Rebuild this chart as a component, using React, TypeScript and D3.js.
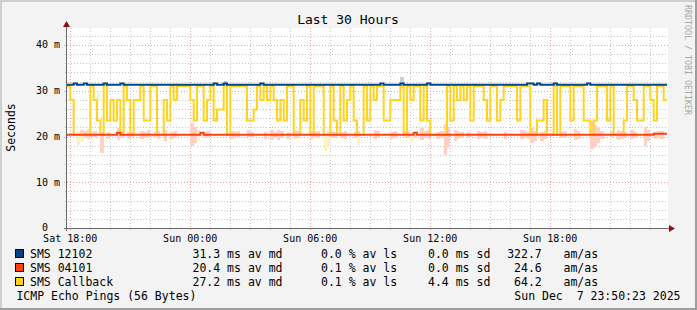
import React from 'react';
import * as d3 from 'd3';

const W = 697;
const H = 310;

const startTime = new Date(2025, 11, 6, 17, 50, 23);
const endTime = new Date(2025, 11, 7, 23, 50, 23);
const slotMinutes = 10;

const titleText = 'Last 30 Hours';
const yAxisTitle = 'Seconds';
const yTickValues = [0, 10, 20, 30, 40];
const yTickLabels = ['0  ', '10 m', '20 m', '30 m', '40 m'];
const yMinorStep = 2;
const yMax = 43.72;

// SMS 12102 median (ms), one value per 10 minutes
const blueValues = [
  31.3, 31.3, 31.6, 31.3, 31.3, 31.6, 31.3, 31.3, 31.3, 31.3,
  31.3, 31.6, 31.3, 31.3, 31.3, 31.3, 31.6, 31.3, 31.3, 31.3,
  31.3, 31.3, 31.3, 31.3, 31.3, 31.3, 31.3, 31.3, 31.3, 31.3,
  31.3, 31.3, 31.3, 31.3, 31.3, 31.3, 31.3, 31.3, 31.3, 31.3,
  31.3, 31.3, 31.3, 31.3, 31.6, 31.3, 31.3, 31.6, 31.3, 31.3,
  31.3, 31.3, 31.3, 31.3, 31.3, 31.3, 31.3, 31.3, 31.6, 31.3,
  31.3, 31.3, 31.3, 31.3, 31.3, 31.3, 31.3, 31.3, 31.3, 31.3,
  31.3, 31.3, 31.3, 31.3, 31.3, 31.3, 31.3, 31.3, 31.3, 31.3,
  31.3, 31.3, 31.3, 31.3, 31.3, 31.3, 31.3, 31.3, 31.3, 31.3,
  31.3, 31.3, 31.3, 31.3, 31.6, 31.3, 31.3, 31.3, 31.3, 31.3,
  31.6, 31.3, 31.3, 31.3, 31.3, 31.3, 31.3, 31.3, 31.6, 31.3,
  31.3, 31.3, 31.3, 31.3, 31.3, 31.3, 31.3, 31.3, 31.3, 31.3,
  31.3, 31.3, 31.3, 31.3, 31.3, 31.3, 31.3, 31.3, 31.3, 31.3,
  31.3, 31.3, 31.3, 31.3, 31.3, 31.3, 31.3, 31.3, 31.6, 31.6,
  31.3, 31.6, 31.3, 31.3, 31.3, 31.3, 31.6, 31.3, 31.3, 31.3,
  31.3, 31.3, 31.3, 31.3, 31.3, 31.3, 31.6, 31.3, 31.3, 31.3,
  31.3, 31.3, 31.3, 31.3, 31.3, 31.3, 31.3, 31.3, 31.3, 31.3,
  31.3, 31.3, 31.3, 31.3, 31.3, 31.3, 31.3, 31.3, 31.3, 31.3,
];

// SMS 04101 median (ms)
const redValues = [
  20.4, 20.4, 20.4, 20.4, 20.4, 20.4, 20.4, 20.4, 20.4, 20.4,
  20.4, 20.4, 20.4, 20.4, 20.4, 20.8, 20.4, 20.4, 20.4, 20.4,
  20.4, 20.4, 20.4, 20.4, 20.4, 20.4, 20.4, 20.4, 20.4, 20.4,
  20.4, 20.4, 20.4, 20.4, 20.4, 20.4, 20.4, 20.4, 20.4, 20.4,
  20.8, 20.4, 20.4, 20.4, 20.4, 20.4, 20.4, 20.4, 20.4, 20.4,
  20.4, 20.4, 20.4, 20.4, 20.4, 20.4, 20.4, 20.4, 20.4, 20.4,
  20.4, 20.4, 20.4, 20.4, 20.4, 20.4, 20.4, 20.4, 20.4, 20.4,
  20.4, 20.4, 20.4, 20.4, 20.4, 20.4, 20.4, 20.4, 20.4, 20.4,
  20.4, 20.4, 20.4, 20.4, 20.4, 20.4, 20.4, 20.4, 20.4, 20.4,
  20.4, 20.4, 20.4, 20.4, 20.4, 20.4, 20.4, 20.4, 20.4, 20.4,
  20.4, 20.4, 20.4, 20.4, 20.8, 20.4, 20.4, 20.4, 20.4, 20.4,
  20.4, 20.4, 20.4, 20.4, 20.4, 20.4, 20.4, 20.4, 20.4, 20.4,
  20.4, 20.4, 20.4, 20.4, 20.4, 20.4, 20.4, 20.4, 20.4, 20.4,
  20.4, 20.4, 20.4, 20.4, 20.4, 20.4, 20.4, 20.4, 20.4, 20.4,
  20.4, 20.4, 20.4, 20.4, 20.4, 20.4, 20.4, 20.4, 20.4, 20.4,
  20.4, 20.4, 20.4, 20.4, 20.4, 20.4, 20.4, 20.4, 20.4, 20.4,
  20.4, 20.4, 20.4, 20.4, 20.4, 20.4, 20.4, 20.4, 20.4, 20.4,
  20.4, 20.4, 20.4, 20.4, 20.4, 20.4, 20.6, 20.6, 20.6, 20.6,
];

// SMS Callback median (ms)
const yellowValues = [
  31.0, 28.0, 20.4, 20.4, 20.4, 20.4, 20.4, 31.0, 28.0, 23.5,
  20.4, 31.0, 23.5, 28.0, 23.5, 28.0, 20.4, 31.0, 28.0, 20.4,
  28.0, 28.0, 31.0, 23.5, 23.5, 31.0, 31.0, 20.4, 20.4, 28.0,
  23.5, 31.0, 28.0, 31.0, 31.0, 31.0, 31.0, 28.0, 23.5, 31.0,
  31.0, 23.5, 28.0, 31.0, 23.5, 25.9, 25.9, 31.0, 20.4, 31.0,
  31.0, 31.0, 31.0, 31.0, 23.5, 23.5, 25.9, 31.0, 28.0, 31.0,
  28.0, 31.0, 28.0, 23.5, 28.0, 23.5, 31.0, 31.0, 20.4, 20.4,
  28.0, 23.5, 31.0, 20.4, 31.0, 31.0, 31.0, 20.4, 20.4, 31.0,
  23.5, 20.4, 31.0, 23.5, 28.0, 31.0, 23.5, 20.4, 20.4, 31.0,
  23.5, 31.0, 28.0, 31.0, 31.0, 23.5, 23.5, 28.0, 28.0, 28.0,
  31.0, 20.4, 31.0, 28.0, 31.0, 31.0, 23.5, 31.0, 23.5, 20.4,
  20.4, 20.4, 20.4, 20.4, 31.0, 23.5, 31.0, 28.0, 31.0, 28.0,
  31.0, 23.5, 31.0, 31.0, 31.0, 28.0, 23.5, 31.0, 31.0, 23.5,
  28.0, 31.0, 31.0, 31.0, 31.0, 23.5, 31.0, 31.0, 31.0, 20.4,
  20.4, 23.5, 23.5, 28.0, 20.4, 20.4, 31.0, 20.4, 31.0, 31.0,
  31.0, 23.5, 31.0, 31.0, 31.0, 23.5, 23.5, 20.4, 23.5, 31.0,
  31.0, 31.0, 23.5, 31.0, 20.4, 20.4, 20.4, 23.5, 31.0, 31.0,
  28.0, 23.5, 23.5, 31.0, 31.0, 28.0, 23.5, 31.0, 31.0, 28.0,
];

// smoke: [slot, low, high] (ms)
const redSmoke: [number, number, number][] = [
  [4, 19.5, 21.5], [5, 19.7, 21.2], [6, 19.4, 21.6], [7, 19.8, 21.0], [8, 19.6, 21.3],
  [10, 16.5, 21.0], [12, 19.5, 21.0], [15, 19.3, 21.8], [16, 19.6, 21.2],
  [18, 19.5, 21.0], [19, 19.8, 20.9], [22, 19.5, 21.3], [23, 19.7, 21.0], [24, 19.6, 21.4],
  [26, 19.8, 21.0], [27, 19.4, 21.2], [29, 19.0, 21.5], [31, 19.5, 21.0], [32, 19.7, 21.2],
  [37, 17.9, 22.9], [38, 18.5, 22.0], [39, 19.4, 21.5], [41, 19.7, 21.0], [42, 19.6, 21.2],
  [49, 19.5, 21.2], [50, 19.8, 21.0], [51, 19.6, 21.1], [54, 19.8, 21.5], [55, 19.6, 21.0],
  [59, 19.4, 21.0], [61, 19.3, 21.5], [62, 19.6, 21.0], [63, 19.2, 21.4], [64, 19.7, 21.2],
  [66, 19.5, 21.0], [68, 19.5, 21.5], [69, 19.7, 21.1], [73, 19.5, 21.3], [74, 19.8, 21.0],
  [75, 19.6, 21.2], [78, 19.5, 21.0], [79, 19.7, 21.2], [80, 19.6, 21.0], [82, 19.6, 21.0],
  [83, 19.4, 21.2], [86, 19.7, 21.0], [87, 19.5, 21.1], [92, 19.5, 21.5], [93, 19.7, 21.2],
  [97, 19.5, 21.0], [98, 19.7, 21.2], [101, 19.8, 21.0], [102, 19.6, 21.2], [104, 19.7, 21.0],
  [106, 19.3, 21.8], [107, 19.6, 21.3], [108, 19.5, 21.5], [111, 19.5, 21.0], [112, 19.7, 21.1],
  [113, 16.0, 22.8], [114, 17.5, 22.0], [116, 19.0, 21.5], [117, 19.4, 21.2], [118, 19.6, 21.0],
  [120, 19.6, 21.0], [123, 19.5, 21.3], [124, 19.7, 21.0], [125, 19.5, 21.2], [131, 19.5, 21.0],
  [136, 19.5, 21.5], [137, 19.7, 21.2], [138, 19.4, 21.0], [139, 18.5, 21.8], [140, 19.0, 21.3],
  [142, 19.0, 21.0], [143, 19.5, 21.2], [148, 19.6, 21.0], [149, 19.7, 21.1], [152, 19.2, 21.6],
  [153, 19.5, 21.2], [157, 17.3, 23.4], [158, 17.8, 22.5], [159, 18.5, 22.0], [160, 19.4, 21.3],
  [163, 19.6, 21.2], [165, 19.2, 21.5], [166, 19.5, 21.3], [167, 19.7, 21.0], [169, 19.5, 21.5],
  [170, 19.7, 21.0], [173, 18.0, 22.0], [174, 19.0, 21.4], [176, 19.5, 21.0], [177, 19.7, 21.2],
  [178, 19.5, 21.3],
];
const yellowSmoke: [number, number, number][] = [
  [3, 18.2, 21.0], [4, 18.8, 20.6], [9, 27.5, 29.5], [39, 19.0, 21.5],
  [77, 16.8, 20.6], [78, 17.8, 20.8], [87, 18.1, 20.5], [103, 19.0, 20.8],
];
const blueSmoke: [number, number, number][] = [
  [47, 31.0, 32.2], [100, 30.6, 33.0],
];

const seriesNames = ['SMS 12102', 'SMS 04101', 'SMS Callback'];
const seriesColors = ['#004586', '#ff420e', '#ffd320'];
const smokeColors = ['#bfd0e1', '#ffd0c3', '#fff2c2'];
const legendMedian = ['31.3 ms av md', '20.4 ms av md', '27.2 ms av md'];
const legendLoss = ['0.0 % av ls', '0.1 % av ls', '0.1 % av ls'];
const legendSd = ['0.0 ms sd', '0.0 ms sd', '4.4 ms sd'];
const legendAmas = ['322.7', '24.6', '64.2'];
const footerLeft = 'ICMP Echo Pings (56 Bytes)';
const footerRight = 'Sun Dec  7 23:50:23 2025';
const watermark = 'RRDTOOL / TOBI OETIKER';

const MONO = '"DejaVu Sans Mono", monospace';

export default function App() {
  const x = d3.scaleTime().domain([startTime, endTime]).range([67, 667]);
  const y = d3.scaleLinear().domain([0, yMax]).range([228, 28]);
  const slotTime = (i: number) => d3.timeMinute.offset(startTime, i * slotMinutes);

  const plotLeft = 67;
  const plotRight = 668;
  const plotTop = 28;
  const plotBottom = 228;

  const hours = d3.timeHour.range(startTime, endTime);
  const minorX = hours.filter((d) => d.getHours() % 6 !== 0);
  const majorX = hours.filter((d) => d.getHours() % 6 === 0);
  const fmt = d3.timeFormat('%a %H:%M');

  const minorY = d3.range(yMinorStep, yMax, yMinorStep).filter((v) => v % 10 !== 0);

  const lineGen = d3
    .line<[Date, number]>()
    .x((d) => x(d[0]))
    .y((d) => y(d[1]))
    .curve(d3.curveStepAfter);
  const toPts = (vals: number[]): [Date, number][] => {
    const pts: [Date, number][] = vals.map((v, i) => [slotTime(i), v]);
    pts.push([endTime, vals[vals.length - 1]]);
    return pts;
  };

  const smokeRects = (data: [number, number, number][], color: string, key: string) =>
    data.map(([s, lo, hi], i) => {
      const x0 = x(slotTime(s));
      const x1 = x(slotTime(s + 1));
      return (
        <rect
          key={key + i}
          x={x0}
          y={y(hi)}
          width={x1 - x0}
          height={y(lo) - y(hi)}
          fill={color}
          shapeRendering="crispEdges"
        />
      );
    });

  const rowBase = [258, 272, 286];
  const cw = 6.95;

  return (
    <svg
      width={W}
      height={H}
      style={{ position: 'absolute', left: 0, top: 0, display: 'block' }}
      xmlns="http://www.w3.org/2000/svg"
    >
      <rect x={0} y={0} width={W} height={H} fill="#f3f3f3" />
      <line x1={0} y1={1} x2={W} y2={1} stroke="#cfcfcf" strokeWidth={2} />
      <line x1={1} y1={0} x2={1} y2={H} stroke="#cfcfcf" strokeWidth={2} />
      <line x1={0} y1={H - 1} x2={W} y2={H - 1} stroke="#9e9e9e" strokeWidth={2} />
      <line x1={W - 1} y1={0} x2={W - 1} y2={H} stroke="#9e9e9e" strokeWidth={2} />

      <rect
        x={plotLeft}
        y={plotTop}
        width={plotRight - plotLeft}
        height={plotBottom - plotTop}
        fill="#ffffff"
      />

      {/* minor grid */}
      <g stroke="#c4c4c4" strokeWidth={1} strokeDasharray="1,2" shapeRendering="crispEdges">
        {minorX.map((d, i) => (
          <line key={'mx' + i} x1={Math.round(x(d)) + 0.5} x2={Math.round(x(d)) + 0.5} y1={plotTop} y2={plotBottom + 2} />
        ))}
        {minorY.map((v, i) => (
          <line key={'my' + i} x1={plotLeft - 2} x2={plotRight} y1={Math.round(y(v)) + 0.5} y2={Math.round(y(v)) + 0.5} />
        ))}
      </g>
      {/* major grid */}
      <g stroke="#eea0a0" strokeWidth={1} strokeDasharray="1,2" shapeRendering="crispEdges">
        {majorX.map((d, i) => (
          <line key={'Mx' + i} x1={Math.round(x(d)) + 0.5} x2={Math.round(x(d)) + 0.5} y1={plotTop} y2={plotBottom + 3} />
        ))}
        {yTickValues.filter((v) => v > 0).map((v, i) => (
          <line key={'My' + i} x1={plotLeft - 3} x2={plotRight} y1={Math.round(y(v)) + 0.5} y2={Math.round(y(v)) + 0.5} />
        ))}
      </g>

      {/* smoke */}
      {smokeRects(redSmoke, smokeColors[1], 'rs')}
      {smokeRects(yellowSmoke, smokeColors[2], 'ys')}
      {smokeRects(blueSmoke, smokeColors[0], 'bs')}

      {/* median lines */}
      <path d={lineGen(toPts(yellowValues)) || ''} fill="none" stroke={seriesColors[2]} strokeWidth={2} />
      <path d={lineGen(toPts(blueValues)) || ''} fill="none" stroke={seriesColors[0]} strokeWidth={2} />
      <path d={lineGen(toPts(redValues)) || ''} fill="none" stroke={seriesColors[1]} strokeWidth={2} />

      {/* axes */}
      <line x1={plotLeft - 3} x2={plotRight + 3} y1={plotBottom + 0.5} y2={plotBottom + 0.5} stroke="#6a6a6a" strokeWidth={1} shapeRendering="crispEdges" />
      <line x1={plotLeft - 0.5} x2={plotLeft - 0.5} y1={plotBottom + 3} y2={plotTop - 3} stroke="#6a6a6a" strokeWidth={1} shapeRendering="crispEdges" />
      <path
        d={`M${plotRight + 1},${plotBottom - 3} L${plotRight + 7},${plotBottom + 0.5} L${plotRight + 1},${plotBottom + 4} Z`}
        fill="#8b1010"
      />
      <path
        d={`M${plotLeft - 4},${plotTop - 1} L${plotLeft - 0.5},${plotTop - 7} L${plotLeft + 3},${plotTop - 1} Z`}
        fill="#8b1010"
      />

      {/* title */}
      <text x={348} y={24} textAnchor="middle" fontFamily={MONO} fontSize={13} fill="#000">
        {titleText}
      </text>

      {/* y labels */}
      {yTickValues.map((v, i) => (
        <text
          key={'yl' + i}
          x={60}
          y={y(v) + 3.4}
          textAnchor="end"
          fontFamily={MONO}
          fontSize={10}
          fill="#000"
          style={{ whiteSpace: 'pre' }}
        >
          {yTickLabels[i]}
        </text>
      ))}
      <text
        transform={`translate(15,127.5) rotate(-90)`}
        textAnchor="middle"
        fontFamily={MONO}
        fontSize={11.5}
        fill="#000"
      >
        {yAxisTitle}
      </text>

      {/* x labels */}
      {majorX.map((d, i) => (
        <text key={'xl' + i} x={x(d)} y={241.5} textAnchor="middle" fontFamily={MONO} fontSize={10} fill="#000">
          {fmt(d)}
        </text>
      ))}

      {/* watermark */}
      <text
        transform={`translate(685,5) rotate(90)`}
        fontFamily={MONO}
        fontSize={8.3}
        fill="#a8a8a8"
      >
        {watermark}
      </text>

      {/* legend */}
      {seriesNames.map((name, i) => (
        <g key={'lg' + i} fontFamily={MONO} fontSize={11.5} fill="#000" style={{ whiteSpace: 'pre' }}>
          <rect x={15.5} y={rowBase[i] - 8.5} width={8} height={8} fill={seriesColors[i]} stroke="#000" strokeWidth={1} shapeRendering="crispEdges" />
          <text x={30} y={rowBase[i]}>{name}</text>
          <text x={192.5} y={rowBase[i]}>{legendMedian[i]}</text>
          <text x={321} y={rowBase[i]}>{legendLoss[i]}</text>
          <text x={428} y={rowBase[i]}>{legendSd[i]}</text>
          <text x={507 + 5 * cw} y={rowBase[i]} textAnchor="end">{legendAmas[i]}</text>
          <text x={563.5} y={rowBase[i]}>am/as</text>
        </g>
      ))}
      <text x={16.4} y={300} fontFamily={MONO} fontSize={11.5} fill="#000">
        {footerLeft}
      </text>
      <text x={680.5} y={300} textAnchor="end" fontFamily={MONO} fontSize={11.5} fill="#000" style={{ whiteSpace: 'pre' }}>
        {footerRight}
      </text>
    </svg>
  );
}
